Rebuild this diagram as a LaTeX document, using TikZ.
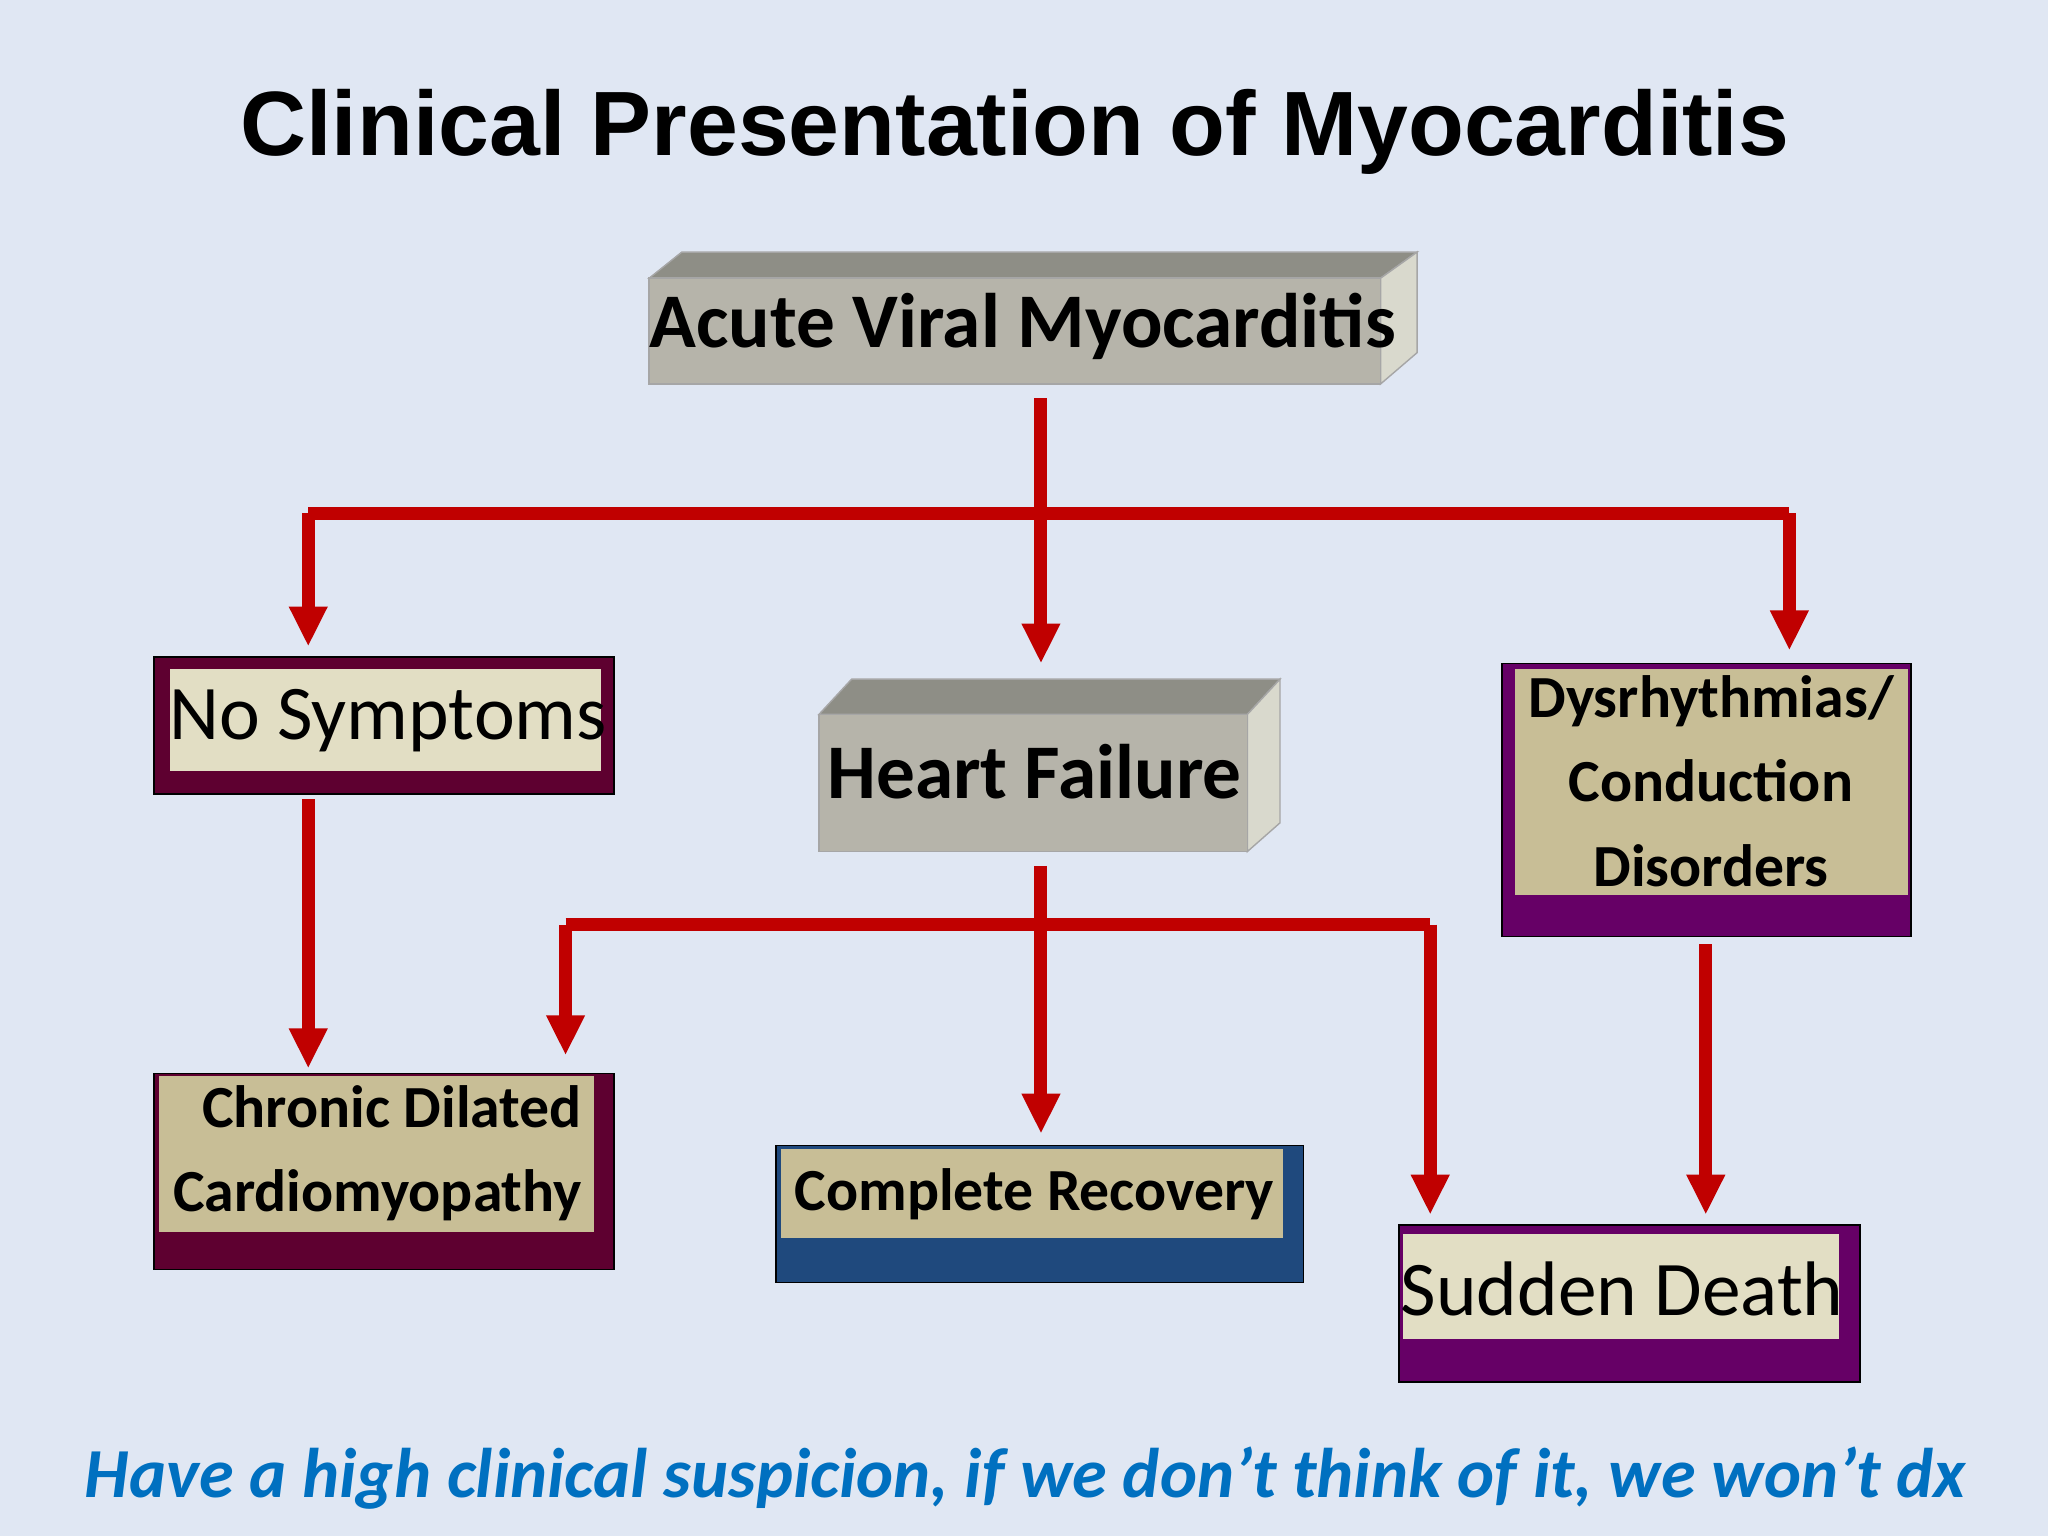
\documentclass[tikz,border=0pt]{standalone}
\usepackage{fontspec}
\setmainfont{Carlito}
\newfontfamily\titlefont{Liberation Sans}
\usetikzlibrary{arrows.meta}
\definecolor{bg}{HTML}{E0E7F3}
\definecolor{arr}{HTML}{C00000}
\definecolor{gfront}{HTML}{B6B4AA}
\definecolor{gtop}{HTML}{8E8E86}
\definecolor{gside}{HTML}{D9D9CD}
\definecolor{maroon}{HTML}{5E0030}
\definecolor{purp}{HTML}{660066}
\definecolor{navy}{HTML}{1F497D}
\definecolor{cream}{HTML}{E2DEC4}
\definecolor{khaki}{HTML}{C8BE96}
\definecolor{blu}{HTML}{0070C0}
\begin{document}
\begin{tikzpicture}[x=0.013061cm,y=-0.013061cm,
  con/.style={draw=arr,line width=1.3mm},
  ar/.style={con,-{Triangle[length=4mm,width=3.6mm]}},
  txt/.style={font=\fontsize{22}{26}\selectfont,text=black,inner sep=0},
  btxt/.style={font=\bfseries\fontsize{22}{26}\selectfont,text=black,inner sep=0},
  stxt/.style={font=\bfseries\fontsize{17}{24}\selectfont,text=black,inner sep=0,align=center}]
\fill[bg] (0,0) rectangle (1568,1176);
\useasboundingbox (0,0) rectangle (1568,1176);
\node[font=\titlefont\bfseries\fontsize{26}{30}\selectfont] (title) at (777,101) {Clinical Presentation of Myocarditis};
% Acute box
\fill[gtop,draw=gray!70] (497,213) -- (522,193) -- (1085,193) -- (1057,213) -- cycle;
\fill[gside,draw=gray!70] (1057,213) -- (1085,193) -- (1085,270) -- (1057,294) -- cycle;
\fill[gfront,draw=gray!70] (497,213) rectangle (1057,294);
\node[btxt] (acute) at (783,250) {Acute Viral Myocarditis};
% Heart failure box
\fill[gtop,draw=gray!70] (627,547) -- (652,520) -- (980,520) -- (955,547) -- cycle;
\fill[gside,draw=gray!70] (955,547) -- (980,520) -- (980,630) -- (955,652) -- cycle;
\fill[gfront,draw=gray!70] (627,547) rectangle (955,652);
\node[btxt] (hf) at (792,591) {Heart Failure};
% No symptoms
\fill[maroon,draw=black] (118,503) rectangle (470,608);
\fill[cream] (130,512) rectangle (460,590);
\node[txt] (nosym) at (297,552) {No Symptoms};
% Dysrhythmias
\fill[purp,draw=black] (1150,508) rectangle (1463,717);
\fill[khaki] (1160,512) rectangle (1461,685);
\node[stxt] (dys) at (1310,598) {Dysrhythmias/\\Conduction\\Disorders};
% Chronic
\fill[maroon,draw=black] (118,822) rectangle (470,972);
\fill[khaki] (122,824) rectangle (455,943);
\node[stxt,align=right] (chr) at (289,883) {Chronic Dilated\\Cardiomyopathy};
% Complete recovery
\fill[navy,draw=black] (594,877) rectangle (998,982);
\fill[khaki] (598,880) rectangle (982,948);
\node[stxt] (rec) at (792,914) {Complete Recovery};
% Sudden death
\fill[purp,draw=black] (1071,938) rectangle (1424,1058);
\fill[cream] (1074,945) rectangle (1408,1025);
\node[txt] (sd) at (1242,987) {Sudden Death};
% connectors
\coordinate (a0) at (797,305); \coordinate (a1) at (797,393);
\coordinate (l1) at (236,393); \coordinate (r1) at (1370,393);
\coordinate (l2) at (236,495); \coordinate (m2) at (797,508); \coordinate (r2) at (1370,498);
\draw[con] (a0) -- (a1);
\draw[con] (l1) -- (r1);
\draw[ar] (l1) -- (l2);
\draw[ar] (a1) -- (m2);
\draw[ar] (r1) -- (r2);
\coordinate (n0) at (236,612); \coordinate (n1) at (236,818);
\draw[ar] (n0) -- (n1);
\coordinate (h0) at (797,663); \coordinate (h1) at (797,708);
\coordinate (hl) at (433,708); \coordinate (hr) at (1095,708);
\coordinate (hl2) at (433,808); \coordinate (hm2) at (797,868); \coordinate (hr2) at (1095,930);
\draw[con] (h0) -- (h1);
\draw[con] (hl) -- (hr);
\draw[ar] (hl) -- (hl2);
\draw[ar] (h1) -- (hm2);
\draw[ar] (hr) -- (hr2);
\coordinate (d0) at (1306,723); \coordinate (d1) at (1306,930);
\draw[ar] (d0) -- (d1);
\node[font=\bfseries\itshape\fontsize{20}{24}\selectfont,text=blu] (note) at (785,1132) {Have a high clinical suspicion, if we don’t think of it, we won’t dx};
\end{tikzpicture}
\end{document}
